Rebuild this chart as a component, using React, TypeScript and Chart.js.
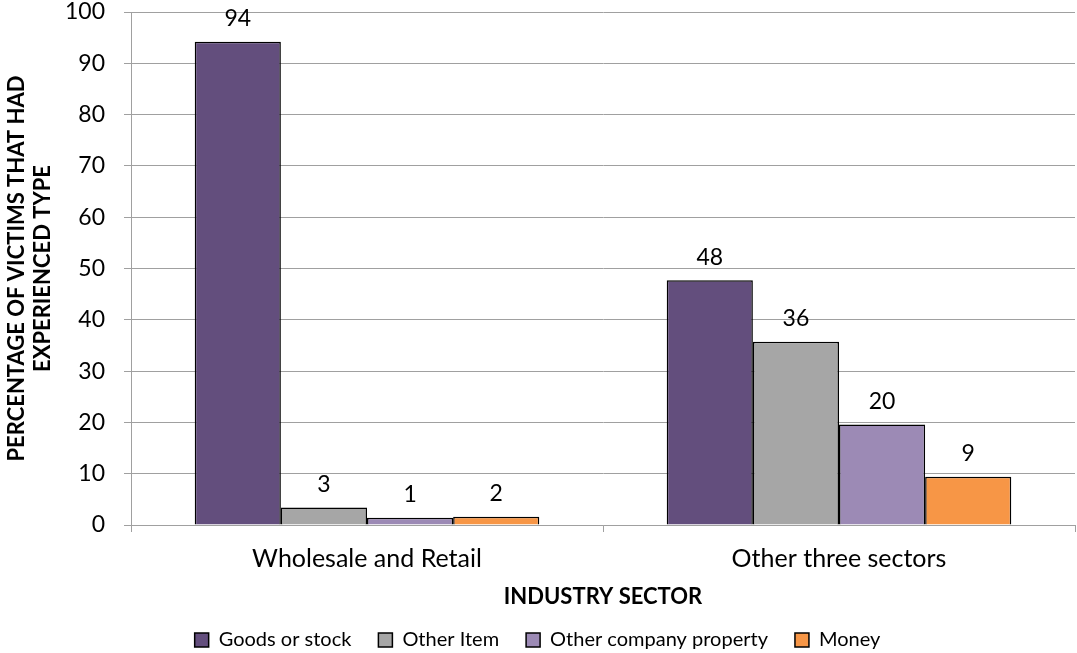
import React, { useEffect, useRef } from "react";
import { Chart, registerables } from "chart.js";

Chart.register(...registerables);

const categories = ["Wholesale and Retail", "Other three sectors"];
const seriesNames = ["Goods or stock", "Other Item", "Other company property", "Money"];
const goodsOrStock = [94.2, 47.7];
const otherItem = [3.4, 35.7];
const otherCompanyProperty = [1.4, 19.6];
const money = [1.6, 9.4];
const seriesColors = ["#634E7D", "#A6A6A6", "#9C8AB5", "#F79646"];
const yTitleLines = ["PERCENTAGE OF VICTIMS THAT HAD", "EXPERIENCED TYPE"];
const xTitle = "INDUSTRY SECTOR";

const FONT = "Lato, 'Open Sans', sans-serif";
const GRID = "#A0A0A0";

const dataLabelPlugin = {
  id: "dataLabels",
  afterDatasetsDraw(chart: any) {
    const ctx = chart.ctx;
    ctx.save();
    ctx.font = `23px ${FONT}`;
    ctx.fillStyle = "#000";
    ctx.textAlign = "center";
    ctx.textBaseline = "middle";
    chart.data.datasets.forEach((ds: any, i: number) => {
      const meta = chart.getDatasetMeta(i);
      meta.data.forEach((el: any, j: number) => {
        const v = ds.data[j];
        ctx.fillText(String(Math.round(v)), el.x, el.y - 23);
      });
    });
    ctx.restore();
  },
};

export default function App() {
  const canvasRef = useRef<HTMLCanvasElement | null>(null);

  useEffect(() => {
    const seriesData = [goodsOrStock, otherItem, otherCompanyProperty, money];
    const chart = new Chart(canvasRef.current as HTMLCanvasElement, {
      type: "bar",
      data: {
        labels: categories,
        datasets: seriesNames.map((name, i) => ({
          label: name,
          data: seriesData[i],
          backgroundColor: seriesColors[i],
          borderColor: "#000",
          borderWidth: 1.5,
          categoryPercentage: 0.73,
          barPercentage: 1,
        })),
      },
      options: {
        animation: false,
        responsive: true,
        maintainAspectRatio: false,
        layout: { padding: { top: 12, right: 2, left: 0, bottom: -7 } },
        plugins: {
          tooltip: { enabled: false },
          legend: {
            position: "bottom",
            labels: {
              boxWidth: 14,
              boxHeight: 14,
              padding: 27,
              color: "#000",
              font: { family: FONT, size: 20 },
            },
          },
        },
        scales: {
          x: {
            offset: true,
            grid: { drawOnChartArea: false, drawTicks: true, tickLength: 7, color: GRID, offset: true },
            border: { color: GRID, width: 1 },
            ticks: { color: "#000", font: { family: FONT, size: 25 }, padding: 12 },
            title: {
              display: true,
              text: xTitle,
              color: "#000",
              font: { family: FONT, size: 22, weight: "bold", lineHeight: 1 },
              padding: { top: 0, bottom: -5 },
            },
            afterFit(scale: any) {
              scale.height = 78;
            },
          },
          y: {
            min: 0,
            max: 100,
            ticks: { stepSize: 10, color: "#000", font: { family: FONT, size: 23 }, padding: 19 },
            grid: { color: GRID, tickLength: 7, lineWidth: 1 },
            border: { color: GRID, width: 1 },
            title: {
              display: true,
              text: yTitleLines,
              color: "#000",
              font: { family: FONT, size: 22, weight: "bold", lineHeight: 1.18 },
              padding: { top: 4, bottom: 0 },
            },
            afterFit(scale: any) {
              scale.width = 131;
              scale.paddingTop = 0;
              scale.paddingBottom = 0;
            },
          },
        },
      },
      plugins: [dataLabelPlugin],
    } as any);
    return () => chart.destroy();
  }, []);

  return (
    <div style={{ position: "fixed", left: 0, top: 0, width: 1077, height: 653, background: "#fff" }}>
      <canvas ref={canvasRef} />
    </div>
  );
}
